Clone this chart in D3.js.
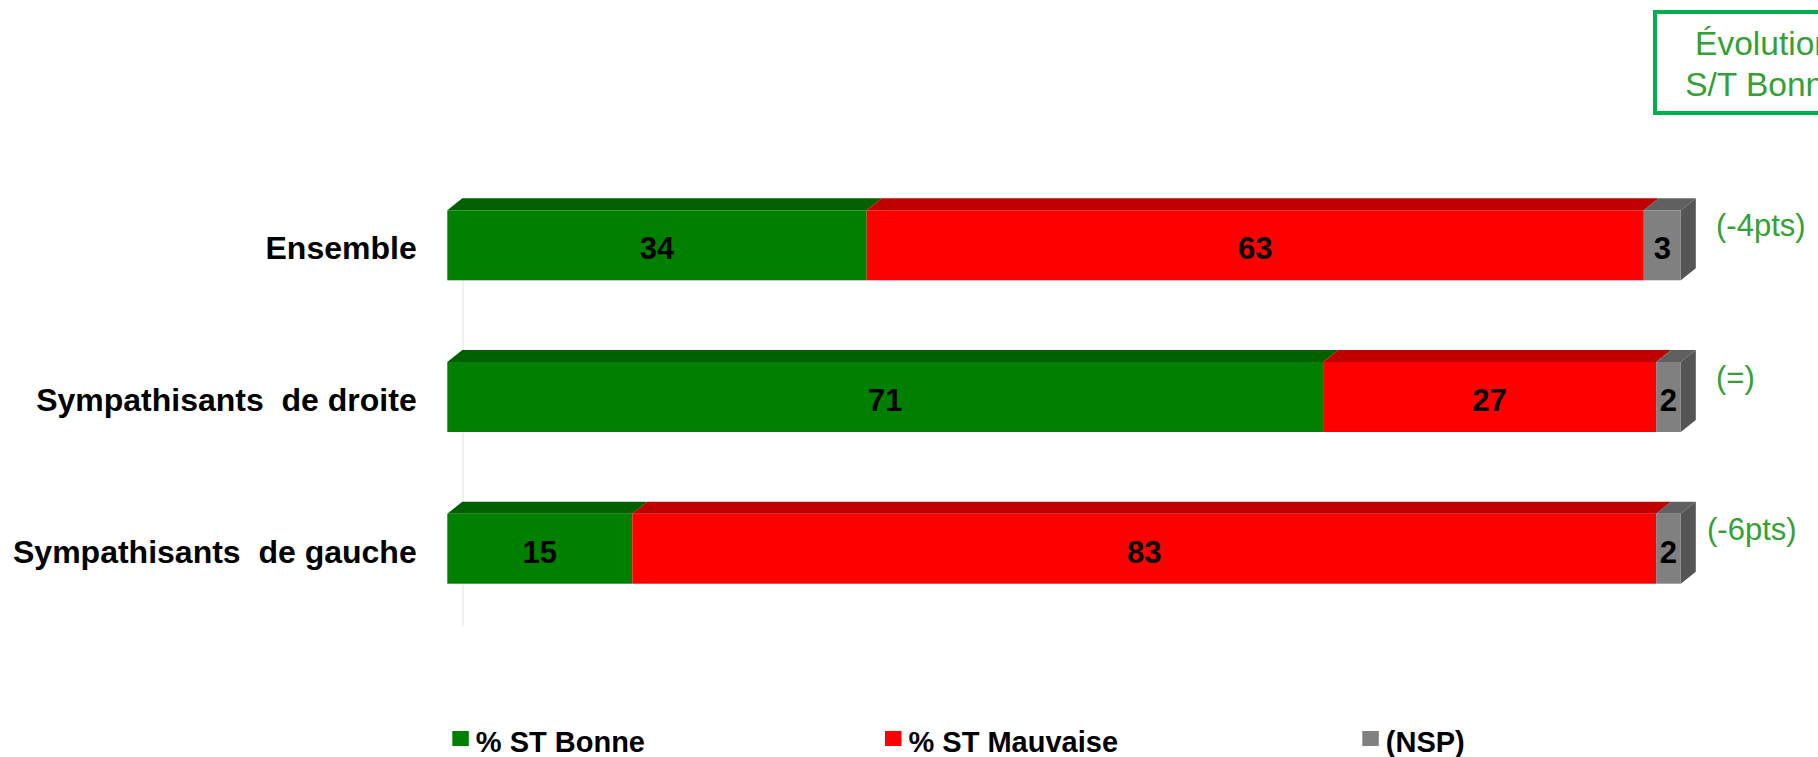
<!DOCTYPE html>
<html>
<head>
<meta charset="utf-8">
<script src="https://cdn.jsdelivr.net/npm/d3@7"></script>
<style>
  html, body { margin: 0; padding: 0; background: #ffffff; }
  svg { display: block; }
</style>
</head>
<body>
<svg id="chart" width="1818" height="757"></svg>
<script>
// ---- DATA ----
const categories = ["Ensemble", "Sympathisants  de droite", "Sympathisants  de gauche"];
const seriesNames = ["% ST Bonne", "% ST Mauvaise", "(NSP)"];
const bonne = [34, 71, 15];
const mauvaise = [63, 27, 83];
const nsp = [3, 2, 2];
const evolution = ["(-4pts)", "(=)", "(-6pts)"];
const boxTitle = ["Évolution", "S/T Bonne"];

// ---- STYLE ----
const front = ["#008000", "#ff0000", "#808080"];
const topC = ["#006000", "#c00000", "#606060"];
const sideC = "#555555";
const evoColor = "#35a035";
const boxColor = "#00b050";
const FONT = "Liberation Sans, Arial, sans-serif";

const svg = d3.select("#chart");

const x = d3.scaleLinear().domain([0, 100]).range([447.3, 1680.8]);
const y = d3.scalePoint().domain(categories).range([245.3, 548.7]);
const barH = 70, dx = 15, dy = 12;

// faint back wall line
svg.append("line")
  .attr("x1", 463).attr("x2", 463).attr("y1", 214).attr("y2", 626)
  .attr("stroke", "#f0f0f0").attr("stroke-width", 2);

const rows = categories.map((c, i) => {
  const vals = [bonne[i], mauvaise[i], nsp[i]];
  let acc = 0;
  const segs = vals.map((v, k) => {
    const s = { k, v, x0: acc, x1: acc + v };
    acc += v;
    return s;
  });
  return { c, i, segs };
});

const g = svg.append("g");
rows.forEach(r => {
  const yc = y(r.c);
  const t = yc - barH / 2, b = yc + barH / 2;
  const rg = g.append("g");
  // top faces
  r.segs.forEach(s => {
    const X0 = x(s.x0), X1 = x(s.x1);
    rg.append("path")
      .attr("d", `M${X0},${t} L${X0 + dx},${t - dy} L${X1 + dx},${t - dy} L${X1},${t} Z`)
      .attr("fill", topC[s.k]);
  });
  // right side face of last segment
  const last = r.segs[r.segs.length - 1];
  const XE = x(last.x1);
  rg.append("path")
    .attr("d", `M${XE},${t} L${XE + dx},${t - dy} L${XE + dx},${b - dy} L${XE},${b} Z`)
    .attr("fill", sideC);
  // front faces
  r.segs.forEach(s => {
    rg.append("rect")
      .attr("x", x(s.x0)).attr("y", t)
      .attr("width", x(s.x1) - x(s.x0)).attr("height", barH)
      .attr("fill", front[s.k]);
  });
  // value labels
  r.segs.forEach(s => {
    rg.append("text")
      .attr("x", (x(s.x0) + x(s.x1)) / 2)
      .attr("y", yc + 14)
      .attr("text-anchor", "middle")
      .attr("font-family", FONT)
      .attr("font-weight", "bold")
      .attr("font-size", 31)
      .attr("fill", "#000")
      .text(s.v);
  });
  // category label
  svg.append("text")
    .attr("x", 416.7).attr("y", yc + 14)
    .attr("text-anchor", "end")
    .attr("font-family", FONT)
    .attr("font-weight", "bold")
    .attr("font-size", 32)
    .attr("fill", "#000")
    .style("white-space", "pre")
    .text(r.c);
  // evolution label
  svg.append("text")
    .attr("x", r.i === 2 ? 1707 : 1716)
    .attr("y", t + 26)
    .attr("font-family", FONT)
    .attr("font-size", 31)
    .attr("fill", evoColor)
    .text(evolution[r.i]);
});

// Evolution box
svg.append("rect")
  .attr("x", 1655).attr("y", 12).attr("width", 218).attr("height", 101)
  .attr("fill", "none").attr("stroke", boxColor).attr("stroke-width", 4);
boxTitle.forEach((t, i) => {
  svg.append("text")
    .attr("x", 1764).attr("y", 55 + i * 41)
    .attr("text-anchor", "middle")
    .attr("font-family", FONT)
    .attr("font-size", 33.5)
    .attr("fill", evoColor)
    .text(t);
});

// Legend
const legX = [452.3, 885, 1362.3];
const lg = svg.append("g");
seriesNames.forEach((n, k) => {
  lg.append("rect")
    .attr("x", legX[k]).attr("y", 731).attr("width", 16.5).attr("height", 15)
    .attr("fill", front[k]);
  lg.append("text")
    .attr("x", legX[k] + 23.5).attr("y", 752)
    .attr("font-family", FONT)
    .attr("font-weight", "bold")
    .attr("font-size", 29)
    .attr("fill", "#000")
    .text(n);
});
</script>
</body>
</html>
